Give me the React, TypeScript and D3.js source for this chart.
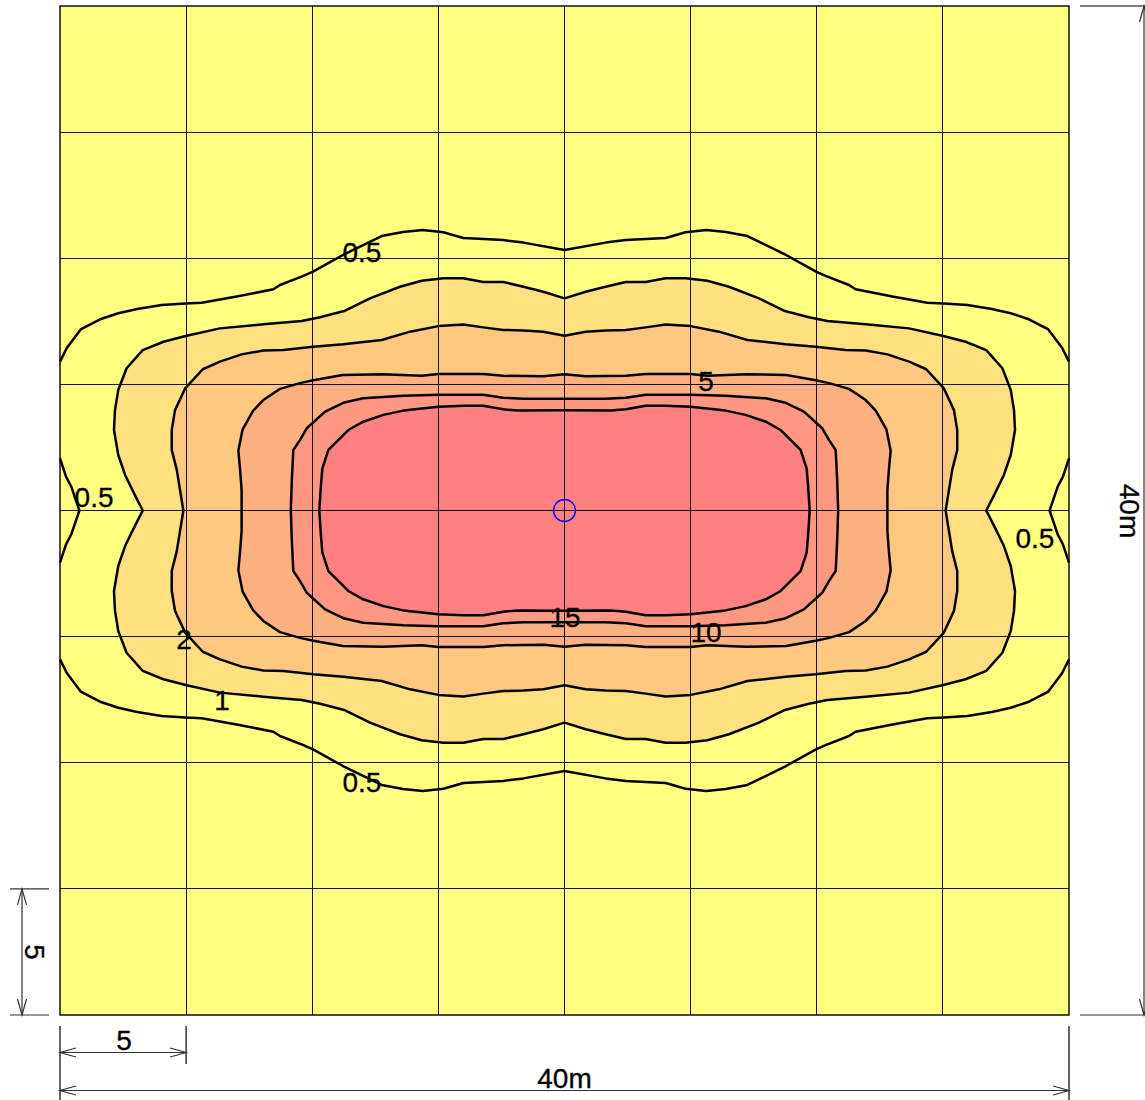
import React from "react";
import * as d3 from "d3";

// Contours, read in metres from the centre: [distance across, distance up], upper-left quarter.
const halfTop: number[][] = [[20,5.90],[19.73,6.44],[19.18,7.18],[18.41,7.58],[17.69,7.82],[16.94,7.99],[15.97,8.15],[15.04,8.21],[14.38,8.24],[13.0,8.48],[11.54,8.77],[11.28,8.94],[10.35,9.30],[9.97,9.47],[8.78,10.13],[7.25,10.88],[6.40,11.04],[5.62,11.12],[4.80,11.03],[4.01,10.80],[2.43,10.72],[1.63,10.62],[0,10.33]];
const halfSide: number[][] = [[20,2.07],[19.76,1.34],[19.55,0.94],[19.23,0]];
const one: number[][] = [[16.72,0],[17.03,0.61],[17.42,1.41],[17.69,2.20],[17.86,3.19],[17.82,3.98],[17.69,4.78],[17.36,5.64],[16.72,6.36],[15.90,6.69],[14.98,6.93],[13.66,7.22],[11.94,7.38],[10.42,7.51],[9.69,7.66],[8.70,7.92],[7.71,8.41],[6.52,8.87],[5.66,9.11],[4.80,9.21],[4.01,9.21],[3.22,9.06],[2.43,9.06],[1.63,8.87],[0.84,8.67],[0,8.41]];
const two: number[][] = [[15.11,0],[15.37,1.61],[15.57,2.40],[15.57,3.19],[15.44,3.98],[15.04,4.84],[14.34,5.60],[13.66,5.90],[12.80,6.19],[11.94,6.34],[11.15,6.36],[9.96,6.49],[8.77,6.59],[7.25,6.76],[6.12,7.09],[5.00,7.31],[4.01,7.37],[3.22,7.26],[2.43,7.16],[1.63,7.14],[0.84,7.09],[0,6.93]];
const five: number[][] = [[12.80,0],[12.80,0.81],[12.86,1.61],[12.93,2.37],[12.76,3.22],[12.34,3.96],[11.94,4.38],[11.28,4.82],[10.49,5.05],[9.96,5.16],[8.79,5.37],[7.20,5.40],[5.66,5.34],[5.00,5.41],[3.22,5.41],[2.43,5.34],[0.84,5.32],[0,5.40]];
const ten: number[][] = [[10.85,0],[10.81,1.21],[10.75,2.40],[10.49,2.79],[10.22,3.26],[9.49,3.92],[8.77,4.27],[7.98,4.45],[6.39,4.55],[5.00,4.59],[3.22,4.59],[2.43,4.47],[1.63,4.43],[0,4.43]];
const fifteen: number[][] = [[9.72,0],[9.66,0.94],[9.60,1.67],[9.36,2.40],[8.57,3.19],[7.98,3.52],[7.18,3.79],[6.39,3.96],[5.00,4.11],[4.01,4.15],[3.22,4.15],[2.43,4.01],[1.83,3.96],[0,3.97]];

const bands: number[][][] = [one, two, five, ten, fifteen];
const bandColors = ["#FFE080", "#FFC880", "#FFB080", "#FF9880", "#FF8080"];

const labelTexts = ["0.5", "0.5", "0.5", "0.5", "5", "15", "10", "2", "1"];
const labelU = [-8.03, -8.03, -18.65, 18.65, 5.61, 0.02, 5.61, -15.08, -13.58];
const labelV = [10.25, -10.76, 0.54, -1.09, 5.13, -4.22, -4.82, -5.09, -7.51];

const gridTicks = [-15, -10, -5, 0, 5, 10, 15];

const x = d3.scaleLinear().domain([-20, 20]).range([60, 1069]);
const y = d3.scaleLinear().domain([20, -20]).range([6, 1015]);
const line = d3.line<number[]>().x((d) => x(d[0])).y((d) => y(d[1]));

const leftUp = (q: number[][]) => q.map(([u, v]) => [-u, v]);
const rightUp = (q: number[][]) => [...q].reverse().map(([u, v]) => [u, v]);
const rightDown = (q: number[][]) => q.map(([u, v]) => [u, -v]);
const leftDown = (q: number[][]) => [...q].reverse().map(([u, v]) => [-u, -v]);
const closed = (q: number[][]) => [...leftUp(q), ...rightUp(q), ...rightDown(q), ...leftDown(q)];

const halfLines: number[][][] = [
  [...leftUp(halfTop), ...rightUp(halfTop)],
  [...leftDown(halfTop), ...rightDown(halfTop)].sort((a, b) => a[0] - b[0]),
  [...leftUp(halfSide), ...leftDown(halfSide)],
  [...halfSide, ...[...halfSide].reverse().map(([u, v]) => [u, -v])],
];

const DIM = "#333";
const font = '"Liberation Sans", Arial, sans-serif';

function HArrow({ x1, x2, yy }: { x1: number; x2: number; yy: number }) {
  return (
    <g stroke={DIM} strokeWidth={1.2} fill="none">
      <line x1={x1} x2={x2} y1={yy} y2={yy} />
      <path d={`M${x1 + 16},${yy - 4.5}L${x1},${yy}L${x1 + 16},${yy + 4.5}`} />
      <path d={`M${x2 - 16},${yy - 4.5}L${x2},${yy}L${x2 - 16},${yy + 4.5}`} />
    </g>
  );
}

function VArrow({ y1, y2, xx }: { y1: number; y2: number; xx: number }) {
  return (
    <g stroke={DIM} strokeWidth={1.2} fill="none">
      <line y1={y1} y2={y2} x1={xx} x2={xx} />
      <path d={`M${xx - 4.5},${y1 + 16}L${xx},${y1}L${xx + 4.5},${y1 + 16}`} />
      <path d={`M${xx - 4.5},${y2 - 16}L${xx},${y2}L${xx + 4.5},${y2 - 16}`} />
    </g>
  );
}

export default function App() {
  const x0 = x(-20), x1 = x(20), y0 = y(20), y1 = y(-20);
  return (
    <svg
      width={1145}
      height={1100}
      viewBox="0 0 1145 1100"
      style={{ position: "absolute", left: 0, top: 0, background: "#fff" }}
    >
      <rect x={x0} y={y0} width={x1 - x0} height={y1 - y0} fill="#FFFF80" />
      {bands.map((b, i) => (
        <path key={i} d={line(closed(b)) + "Z"} fill={bandColors[i]} stroke="#000" strokeWidth={2.5} strokeLinejoin="round" />
      ))}
      {halfLines.map((l, i) => (
        <path key={i} d={line(l)!} fill="none" stroke="#000" strokeWidth={2.5} strokeLinejoin="round" />
      ))}
      <g stroke="#000" strokeWidth={1} opacity={0.9} shapeRendering="crispEdges">
        {gridTicks.map((t) => (
          <line key={"v" + t} x1={x(t)} x2={x(t)} y1={y0} y2={y1} />
        ))}
        {gridTicks.map((t) => (
          <line key={"h" + t} x1={x0} x2={x1} y1={y(t)} y2={y(t)} />
        ))}
      </g>
      <rect x={x0} y={y0} width={x1 - x0} height={y1 - y0} fill="none" stroke="#000" strokeWidth={1.4} />
      <circle cx={x(0)} cy={y(0)} r={11} fill="none" stroke="#0000FF" strokeWidth={1.3} />
      <g fontFamily={font} fontSize={28} fill="#000" stroke="#000" strokeWidth={0.3} textAnchor="middle">
        {labelTexts.map((t, i) => (
          <text key={i} x={x(labelU[i])} y={y(labelV[i])} dy="0.35em">{t}</text>
        ))}
      </g>

      <g stroke={DIM} strokeWidth={1.2}>
        <line x1={x0} x2={x0} y1={1026} y2={1100} stroke="#000" />
        <line x1={x(-15)} x2={x(-15)} y1={1026} y2={1064} stroke="#000" />
        <line x1={x1} x2={x1} y1={1026} y2={1100} stroke="#000" />
        <line x1={10} x2={49} y1={y(-15)} y2={y(-15)} />
        <line x1={10} x2={49} y1={y1} y2={y1} />
        <line x1={1080} x2={1145} y1={y0} y2={y0} stroke="#000" />
        <line x1={1080} x2={1145} y1={y1} y2={y1} />
      </g>
      <HArrow x1={x0} x2={x(-15)} yy={1052.5} />
      <HArrow x1={x0} x2={x1} yy={1090.5} />
      <VArrow y1={y(-15)} y2={y1} xx={22} />
      <VArrow y1={y0} y2={y1} xx={1144} />
      <g fontFamily={font} fontSize={28} fill="#000" stroke="#000" strokeWidth={0.3} textAnchor="middle">
        <text x={124} y={1050}>5</text>
        <text x={564.5} y={1088}>40m</text>
        <text transform="translate(25,952) rotate(90)">5</text>
        <text transform="translate(1120,511) rotate(90)">40m</text>
      </g>
    </svg>
  );
}
